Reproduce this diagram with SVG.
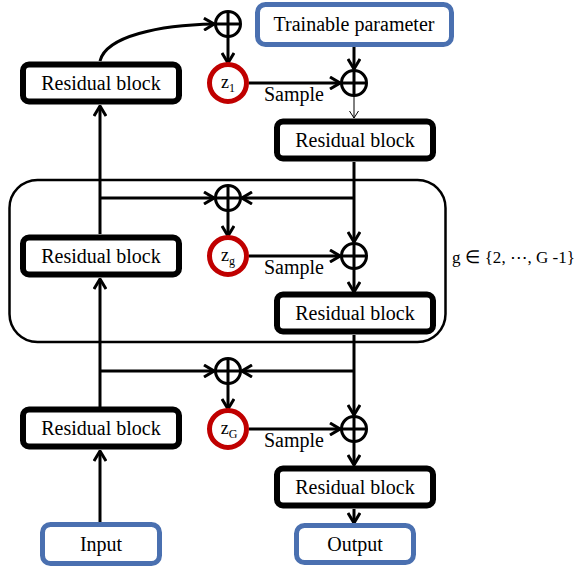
<svg xmlns="http://www.w3.org/2000/svg" width="580" height="571" viewBox="0 0 580 571">
<style>
.s{font-family:'Liberation Serif','Times New Roman',serif;fill:#000}
.lbl{font-family:'Liberation Serif','Times New Roman',serif;font-size:20px;text-anchor:middle;fill:#000}
.rb{fill:#fff;stroke:#000;stroke-width:6}
.io{fill:#fff;stroke:#4a70b0;stroke-width:5}
.z{fill:#fff;stroke:#c00000;stroke-width:5}
.op{fill:#fff;stroke:#000;stroke-width:3}
.c{fill:none;stroke:#000;stroke-width:3}
.a{fill:none;stroke:#000;stroke-width:3;marker-end:url(#ah)}
.t{fill:none;stroke:#000;stroke-width:1;marker-end:url(#ahs)}
</style>
<defs>
<marker id="ah" markerUnits="userSpaceOnUse" viewBox="0 0 12 14" refX="11" refY="7" markerWidth="12" markerHeight="14" orient="auto">
<path d="M1,1 L11,7 L1,13" fill="none" stroke="#000" stroke-width="3"/>
</marker>
<marker id="ahs" markerUnits="userSpaceOnUse" viewBox="0 0 8 10" refX="7.5" refY="5" markerWidth="8" markerHeight="10" orient="auto">
<path d="M0.5,0.5 L7.5,5 L0.5,9.5" fill="none" stroke="#000" stroke-width="1"/>
</marker>
</defs>

<g id="loop-frame">
<rect x="9.5" y="180" width="436" height="162" rx="28" fill="none" stroke="#000" stroke-width="2.5"/>
</g>

<g id="connectors">
<path class="a" d="M100,61 C106,36 160,25 214,24"/>
<line class="a" x1="100" y1="522" x2="100" y2="451"/>
<line class="a" x1="100" y1="407" x2="100" y2="279"/>
<line class="a" x1="100" y1="234" x2="100" y2="106"/>
<line class="a" x1="100" y1="198" x2="214" y2="198"/>
<line class="a" x1="354" y1="198" x2="242" y2="198"/>
<line class="a" x1="100" y1="371" x2="214" y2="371"/>
<line class="a" x1="354" y1="371" x2="242" y2="371"/>
<line class="a" x1="228" y1="37" x2="228" y2="63"/>
<line class="a" x1="228" y1="211" x2="228" y2="236"/>
<line class="a" x1="228" y1="384" x2="228" y2="409"/>
<line class="a" x1="249" y1="83" x2="340" y2="83"/>
<line class="a" x1="249" y1="256" x2="340" y2="256"/>
<line class="a" x1="249" y1="429" x2="340" y2="429"/>
<line class="a" x1="354" y1="47" x2="354" y2="69"/>
<line class="t" x1="354" y1="96" x2="354" y2="118"/>
<line class="a" x1="354" y1="162" x2="354" y2="242"/>
<line class="a" x1="354" y1="269" x2="354" y2="292"/>
<line class="a" x1="354" y1="335" x2="354" y2="415"/>
<line class="a" x1="354" y1="442" x2="354" y2="465"/>
<line class="a" x1="354" y1="509" x2="354" y2="523"/>
</g>

<g id="plus1"><circle class="op" cx="228" cy="24" r="12.5"/><path class="c" d="M215.5,24 H240.5 M228,11.5 V36.5"/></g>
<g id="plus2"><circle class="op" cx="354" cy="83" r="12.5"/><path class="c" d="M341.5,83 H366.5 M354,70.5 V95.5"/></g>
<g id="plus3"><circle class="op" cx="228" cy="198" r="12.5"/><path class="c" d="M215.5,198 H240.5 M228,185.5 V210.5"/></g>
<g id="plus4"><circle class="op" cx="354" cy="256" r="12.5"/><path class="c" d="M341.5,256 H366.5 M354,243.5 V268.5"/></g>
<g id="plus5"><circle class="op" cx="228" cy="371" r="12.5"/><path class="c" d="M215.5,371 H240.5 M228,358.5 V383.5"/></g>
<g id="plus6"><circle class="op" cx="354" cy="429" r="12.5"/><path class="c" d="M341.5,429 H366.5 M354,416.5 V441.5"/></g>

<g id="z1"><circle class="z" cx="228" cy="83" r="18.5"/><text class="s" x="228" y="88" font-size="18" text-anchor="middle">z<tspan font-size="12" dy="4">1</tspan></text></g>
<g id="zg"><circle class="z" cx="228" cy="256" r="18.5"/><text class="s" x="228" y="261" font-size="18" text-anchor="middle">z<tspan font-size="12" dy="4">g</tspan></text></g>
<g id="zG"><circle class="z" cx="228" cy="429" r="18.5"/><text class="s" x="229" y="434" font-size="18" text-anchor="middle">z<tspan font-size="12" dy="4">G</tspan></text></g>

<g id="trainable"><rect class="io" x="257.5" y="4.5" width="194" height="40" rx="8"/><text class="lbl" x="354" y="31">Trainable parameter</text></g>
<g id="input"><rect class="io" x="42.5" y="524.5" width="117" height="39" rx="8"/><text class="lbl" x="101" y="551">Input</text></g>
<g id="output"><rect class="io" x="296.5" y="525.5" width="117" height="37" rx="8"/><text class="lbl" x="355" y="551">Output</text></g>

<g id="rb-left1"><rect class="rb" x="23" y="64.5" width="156" height="37" rx="6"/><text class="lbl" x="101" y="90">Residual block</text></g>
<g id="rb-left2"><rect class="rb" x="23" y="237.5" width="156" height="37" rx="6"/><text class="lbl" x="101" y="263">Residual block</text></g>
<g id="rb-left3"><rect class="rb" x="23" y="409.5" width="156" height="37" rx="6"/><text class="lbl" x="101" y="435">Residual block</text></g>
<g id="rb-right1"><rect class="rb" x="277" y="121.5" width="156" height="37" rx="6"/><text class="lbl" x="355" y="147">Residual block</text></g>
<g id="rb-right2"><rect class="rb" x="277" y="294.5" width="156" height="37" rx="6"/><text class="lbl" x="355" y="320">Residual block</text></g>
<g id="rb-right3"><rect class="rb" x="277" y="468.5" width="156" height="37" rx="6"/><text class="lbl" x="355" y="494">Residual block</text></g>

<g id="labels">
<text class="lbl" x="294" y="101">Sample</text>
<text class="lbl" x="294" y="274">Sample</text>
<text class="lbl" x="294" y="447">Sample</text>
<text class="s" x="452" y="263" font-size="17.5" textLength="123" lengthAdjust="spacingAndGlyphs">g ∈ {2, ⋯, G -1}</text>
</g>
</svg>
